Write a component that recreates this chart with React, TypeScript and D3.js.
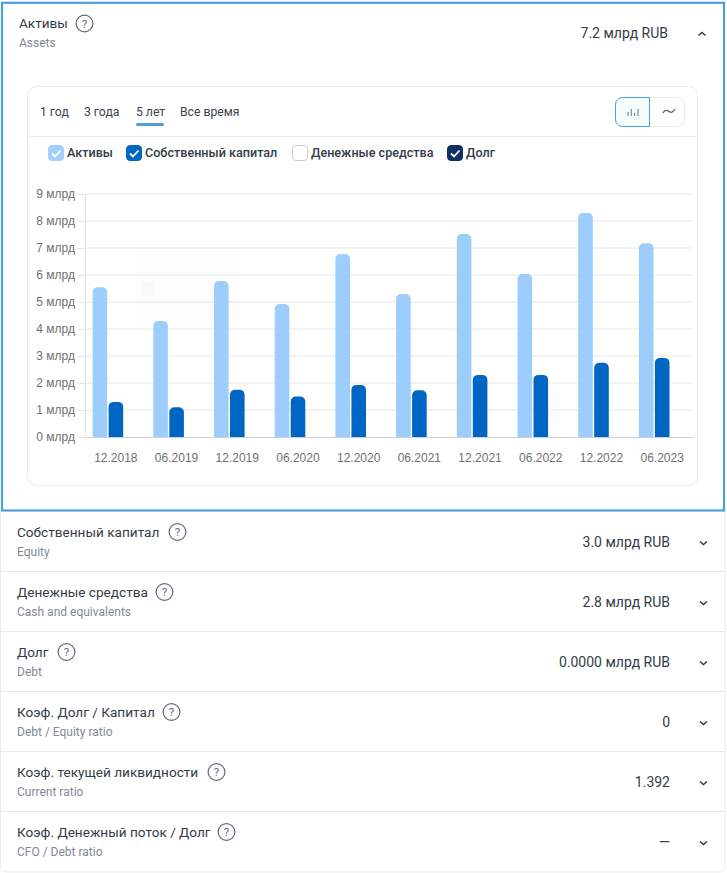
import { useEffect, useRef } from "react";
import * as d3 from "d3";

const periods = ["12.2018", "06.2019", "12.2019", "06.2020", "12.2020", "06.2021", "12.2021", "06.2022", "12.2022", "06.2023"];
const assets = [5.55, 4.3, 5.78, 4.93, 6.78, 5.3, 7.52, 6.04, 8.3, 7.18];
const equity = [1.3, 1.1, 1.75, 1.5, 1.93, 1.73, 2.3, 2.3, 2.75, 2.93];
const debt = [0, 0, 0, 0, 0, 0, 0, 0, 0, 0];
const yTicks = [0, 1, 2, 3, 4, 5, 6, 7, 8, 9];

const seriesSlots = ["assets", "equity", "cash", "debt"];
const tabs = ["1 год", "3 года", "5 лет", "Все время"];
const tabX = [40, 84, 136, 180];

const rowTitles = ["Собственный капитал", "Денежные средства", "Долг", "Коэф. Долг / Капитал", "Коэф. текущей ликвидности", "Коэф. Денежный поток / Долг"];
const rowSubs = ["Equity", "Cash and equivalents", "Debt", "Debt / Equity ratio", "Current ratio", "CFO / Debt ratio"];
const rowValues = ["3.0 млрд RUB", "2.8 млрд RUB", "0.0000 млрд RUB", "0", "1.392", "—"];
const rowHelpX = [177.5, 164.5, 66.5, 171.5, 216.5, 226.5];

const legendLabels = ["Активы", "Собственный капитал", "Денежные средства", "Долг"];
const legendX = [48, 126, 292, 447];
const legendColors = ["#a3d0fb", "#0066c4", "#ffffff", "#12305f"];

const font = "Roboto, sans-serif";
const axisFont = "'Liberation Sans', Arial, sans-serif";
const BLUE = "#4f9fdc";
const LINE = "#e9ebee";
const TEXT = "#333c48";

const x = d3.scaleBand<string>().domain(periods).range([85, 692]);
const inner = d3.scaleBand<string>().domain(seriesSlots).range([7.6, 71.6]);
const y = d3.scaleLinear().domain([0, 9]).range([437, 194]);

function topRounded(px: number, w: number, py: number, base: number, r: number) {
  const p = d3.path();
  p.moveTo(px, base);
  p.lineTo(px, py + r);
  p.arcTo(px, py, px + r, py, r);
  p.lineTo(px + w - r, py);
  p.arcTo(px + w, py, px + w, py + r, r);
  p.lineTo(px + w, base);
  p.closePath();
  return p.toString();
}

function Help({ cx, cy }: { cx: number; cy: number }) {
  return (
    <g>
      <circle cx={cx} cy={cy} r={8.4} fill="none" stroke="#5f6b7a" strokeWidth={1.2} />
      <text x={cx} y={cy + 4} textAnchor="middle" fontFamily={font} fontSize={11.5} fill="#5f6b7a">?</text>
    </g>
  );
}

function Chevron({ cx, cy, up }: { cx: number; cy: number; up?: boolean }) {
  const d = up ? 3 : -3;
  return (
    <path
      d={`M${cx - 3.5} ${cy + d / 2}L${cx} ${cy - d / 2}L${cx + 3.5} ${cy + d / 2}`}
      fill="none"
      stroke="#333b46"
      strokeWidth={1.5}
    />
  );
}

export default function App() {
  const axisRef = useRef<SVGGElement>(null);
  const xAxisRef = useRef<SVGGElement>(null);

  useEffect(() => {
    const left = d3.select(axisRef.current!);
    left.selectAll("*").remove();
    left
      .attr("transform", "translate(85,0)")
      .call(d3.axisLeft(y).tickValues(yTicks).tickSize(7).tickPadding(3).tickFormat((d) => `${d} млрд`));
    left.select(".domain").attr("stroke", "#e6e6e6");
    left.selectAll(".tick line").attr("stroke", "#e6e6e6");
    left.selectAll(".tick text").attr("font-size", 12).attr("font-family", axisFont).attr("fill", "#707070");

    const bottom = d3.select(xAxisRef.current!);
    bottom.selectAll("*").remove();
    bottom
      .attr("transform", "translate(0.5,437)")
      .call(d3.axisBottom(x).tickSize(0).tickPadding(16));
    bottom.select(".domain").attr("stroke", "#ccd1d6");
    bottom.selectAll(".tick text").attr("font-size", 12).attr("font-family", axisFont).attr("fill", "#707070");
  }, []);

  return (
    <svg width={727} height={873} style={{ position: "absolute", left: 0, top: 0, background: "#fff" }}>
      {/* outer list frame */}
      <path d="M0.5 511V866a6 6 0 0 0 6 6H719a6 6 0 0 0 6 -6V511" fill="none" stroke={LINE} />

      {/* expanded row */}
      <rect x={2} y={2.8} width={722} height={507.7} fill="#fff" stroke={BLUE} strokeWidth={2.2} />
      <text x={19} y={28} fontFamily={font} fontSize={13.6} fill={TEXT}>Активы</text>
      <Help cx={84.5} cy={23.5} />
      <text x={19} y={47} fontFamily={font} fontSize={12} fill="#808a96">Assets</text>
      <text x={668} y={38} textAnchor="end" fontFamily={font} fontSize={14} fill={TEXT}>7.2 млрд RUB</text>
      <Chevron cx={702} cy={34} up />

      {/* card */}
      <rect x={27.5} y={86.5} width={670} height={399} rx={9} fill="#fff" stroke={LINE} />
      <line x1={28} x2={697} y1={136.5} y2={136.5} stroke={LINE} />
      {tabs.map((t, i) => (
        <text key={t} x={tabX[i]} y={116} fontFamily={font} fontSize={12.2} fill="#3a4450">{t}</text>
      ))}
      <rect x={136} y={123} width={28} height={3} rx={1.5} fill={BLUE} />

      {/* chart type toggle */}
      <rect x={615.5} y={97.5} width={69} height={29} rx={7} fill="#fff" stroke={LINE} />
      <path d="M649.5 97.5H622.5a7 7 0 0 0 -7 7V119.5a7 7 0 0 0 7 7H649.5Z" fill="#f5fafd" stroke={BLUE} />
      <path d="M628 116v-4M631.3 116v-7M634.7 116v-3M638 116v-7" stroke="#6b7682" strokeWidth={1} fill="none" />
      <path d="M663 113c2 -4 4 -3 6 -1.5s4 1 6 -2.5" stroke="#3f4954" strokeWidth={1.1} fill="none" />

      {/* legend */}
      {legendLabels.map((l, i) => (
        <g key={l}>
          <rect
            x={legendX[i] + 0.5}
            y={145.5}
            width={15}
            height={15}
            rx={3.5}
            fill={legendColors[i]}
            stroke={i === 2 ? "#c9ced4" : legendColors[i]}
          />
          {i !== 2 && (
            <path
              d={`M${legendX[i] + 4} ${153.5}l3 3l5.5 -6`}
              fill="none"
              stroke="#fff"
              strokeWidth={1.8}
            />
          )}
          <text x={legendX[i] + 19} y={157} fontFamily={font} fontSize={12.6} fontWeight={500} fill={TEXT}>{l}</text>
        </g>
      ))}

      {/* faint logo watermark behind the plot */}
      <rect x={135} y={255} width={106} height={67} rx={3} fill="#fdfdfd" />
      <rect x={141} y={281} width={13} height={15} fill="#f9f9f9" />

      {/* grid */}
      {yTicks.slice(1).map((t) => (
        <line key={t} x1={85} x2={692} y1={y(t)} y2={y(t)} stroke="#e6e6e6" />
      ))}
      <g ref={axisRef} />
      <g ref={xAxisRef} />

      {/* bars */}
      {periods.map((p, i) => {
        const bx = x(p)!;
        const w = 14.6;
        return (
          <g key={p}>
            <path d={topRounded(bx + inner("assets")!, w, y(assets[i]), y(0), 5)} fill="#9dcdfb" />
            <path d={topRounded(bx + inner("equity")!, w, y(equity[i]), y(0), 5)} fill="#0066c4" />
            {debt[i] > 0 && <path d={topRounded(bx + inner("debt")!, w, y(debt[i]), y(0), 5)} fill="#12305f" />}
          </g>
        );
      })}

      {/* collapsed rows */}
      {rowTitles.map((title, i) => {
        const top = 512 + i * 60;
        return (
          <g key={title}>
            <text x={17} y={top + 25} fontFamily={font} fontSize={13.6} fill={TEXT}>{title}</text>
            <Help cx={rowHelpX[i]} cy={top + 20} />
            <text x={17} y={top + 44} fontFamily={font} fontSize={12} fill="#808a96">{rowSubs[i]}</text>
            <text x={670} y={top + 35} textAnchor="end" fontFamily={font} fontSize={14} fill={TEXT}>{rowValues[i]}</text>
            <Chevron cx={703.5} cy={top + 31} />
            {i < rowTitles.length - 1 && <line x1={1} x2={725} y1={top + 59.5} y2={top + 59.5} stroke={LINE} />}
          </g>
        );
      })}
    </svg>
  );
}
